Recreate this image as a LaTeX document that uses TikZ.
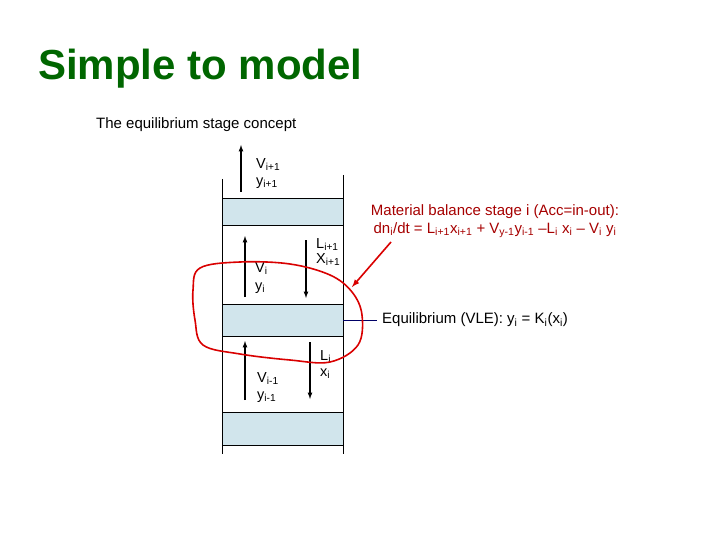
\documentclass[tikz,border=0pt]{standalone}
\usepackage{fontspec}
\setmainfont{Liberation Sans}
\begin{document}
\begin{tikzpicture}[x=1pt,y=-1pt,
  wall/.style={black,line width=0.8pt},
  tray/.style={draw=black,fill=cyan!25!teal!20,line width=0.6pt},
  flow/.style={-latex,line width=1.2pt},
  lbl/.style={font=\fontsize{14.5}{15}\selectfont,align=left,inner sep=0pt,anchor=north west},
  redtxt/.style={text=red!65!black,font=\fontsize{15}{18}\selectfont,align=center}]
\useasboundingbox (0,0) rectangle (720,540);
\node[anchor=base west,inner sep=0pt,font=\bfseries\fontsize{42}{46}\selectfont,text=green!40!black] (title) at (38,80) {Simple to model};
\node[anchor=west,inner sep=0pt,font=\fontsize{15}{18}\selectfont] (sub) at (96,125) {The equilibrium stage concept};
\draw[wall] (222,179) -- (222,454);
\draw[wall] (343,175) -- (343,454);
\node[tray,minimum width=121pt,minimum height=27pt,inner sep=0pt] (t1) at (282.5,211.5) {};
\node[tray,minimum width=121pt,minimum height=32pt,inner sep=0pt] (t2) at (282.5,320) {};
\node[tray,minimum width=121pt,minimum height=33pt,inner sep=0pt] (t3) at (282.5,428.5) {};
\coordinate (a0) at (241,192); \coordinate (a1) at (241,145);
\draw[flow] (a0) -- (a1);
\coordinate (b0) at (245,297); \coordinate (b1) at (245,236);
\draw[flow] (b0) -- (b1);
\coordinate (c0) at (306,240); \coordinate (c1) at (306,298);
\draw[flow] (c0) -- (c1);
\coordinate (d0) at (245,400); \coordinate (d1) at (245,341);
\draw[flow] (d0) -- (d1);
\coordinate (e0) at (310,342); \coordinate (e1) at (310,399);
\draw[flow] (e0) -- (e1);
\node[lbl] (v1) at (256,158) {V\textsubscript{i+1}\\[2pt]y\textsubscript{i+1}};
\node[lbl] (v2) at (255,262) {V\textsubscript{i}\\[3pt]y\textsubscript{i}};
\node[lbl] (l1) at (316,238) {L\textsubscript{i+1}\\[0pt]X\textsubscript{i+1}};
\node[lbl] (v3) at (257,372) {V\textsubscript{i-1}\\[2pt]y\textsubscript{i-1}};
\node[lbl] (l2) at (320,350) {L\textsubscript{i}\\[1pt]x\textsubscript{i}};
\coordinate (eq) at (377,320);
\draw[blue!40!black,line width=1pt] (t2.east) -- (eq);
\node[anchor=west,inner sep=0pt,font=\fontsize{15}{18}\selectfont] (eqt) at (382,320) {Equilibrium (VLE): y\textsubscript{i} = K\textsubscript{i}(x\textsubscript{i})};
\node[redtxt] (mb) at (495,221) {Material balance stage i (Acc=in-out):\\dn\textsubscript{i}/dt = L\textsubscript{i+1}x\textsubscript{i+1} + V\textsubscript{y-1}y\textsubscript{i-1} --L\textsubscript{i} x\textsubscript{i} -- V\textsubscript{i} y\textsubscript{i}};
\coordinate (ra) at (352,287);
\draw[red!85!black,line width=1.6pt,-latex] (391,242) -- (ra);
\draw[red!85!black,line width=1.6pt] plot[smooth cycle,tension=0.6] coordinates {(200,268) (240,262) (290,264) (330,275) (352,292) (362,315) (358,345) (330,362) (290,360) (240,354) (203,345) (195,320) (193,290)};
\end{tikzpicture}
\end{document}
